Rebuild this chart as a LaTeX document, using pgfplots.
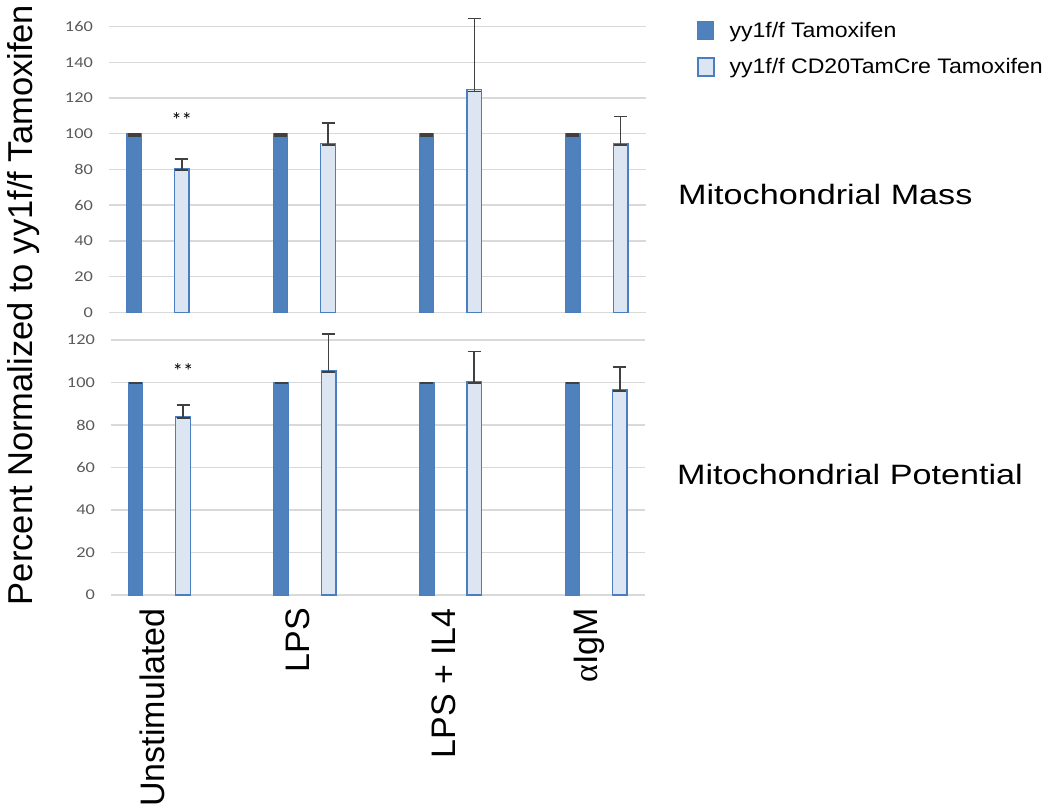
\documentclass[border=0pt]{standalone}
\usepackage{pgfplots}
\pgfplotsset{compat=1.18}
\usepackage{pgfplotstable}
\usepackage{graphicx}
\usepackage{fontspec}
\setmainfont{Liberation Sans}
\newfontfamily\calibri{Carlito}
\newfontfamily\serifgreek{Liberation Serif}
\definecolor{darkbar}{HTML}{4F81BD}
\definecolor{lightbar}{HTML}{DCE6F2}
\definecolor{barline}{HTML}{4A7EC0}
\definecolor{gridgray}{HTML}{D9D9D9}
\definecolor{ticktext}{HTML}{595959}
\definecolor{errgray}{HTML}{404040}

% Mitochondrial Mass
\pgfplotstableread{
x y ep em
-0.163 100 0 1.2
0.837 100 0 1.2
1.837 100 0 1.2
2.837 100 0 1.2
}\massA
\pgfplotstableread{
x y ep em
0.163 80.7 5.2 1.0
1.163 94.7 11.5 1.0
2.163 124.9 39.6 1.2
3.163 94.7 14.9 1.0
}\massB
% Mitochondrial Potential
\pgfplotstableread{
x y ep em
-0.163 100 0 0.3
0.837 100 0 0.3
1.837 100 0 0.3
2.837 100 0 0.3
}\potA
\pgfplotstableread{
x y ep em
0.163 83.8 5.5 0.6
1.163 105.6 17.1 0.6
2.163 100.2 14.3 0.3
3.163 96.5 10.9 0.6
}\potB

\pgfplotsset{
  panel/.style={
    scale only axis, ymin=0,
    axis line style={draw=none},
    ymajorgrids, grid style={gridgray, line width=1.4bp},
    major tick length=0pt, tick style={draw=none},
    yticklabel style={font=\calibri\fontsize{15bp}{18bp}\selectfont, color=ticktext, inner sep=0pt, xshift=-16bp},
    yticklabel={\scalebox{1.22}[1]{\pgfmathprintnumber{\tick}}},
    /pgf/number format/assume math mode=true,
    clip=false,
    ybar, bar width=14.5bp,
  },
  errs/.style={
    error bars/.cd, y dir=both, y explicit,
    error bar style={errgray, line width=1.6bp, solid},
    error mark options={errgray, line width=1.6bp, mark size=6.5bp, rotate=90, solid},
  },
  darkstyle/.style={fill=darkbar, draw=barline, line width=1bp, bar shift=0pt, errs},
  lightstyle/.style={fill=lightbar, draw=barline, line width=1.3bp, bar shift=0pt, errs},
}

\begin{document}
\begin{tikzpicture}
\useasboundingbox (0,0) rectangle (1050bp,811bp);

% top panel
\begin{axis}[panel,
  at={(109bp,498.7bp)}, anchor=south west,
  width=537bp, height=285.6bp,
  xmin=-0.334, xmax=3.336, xtick=\empty,
  ymax=160, ytick={0,20,...,160},
  legend style={at={(rel axis cs:1.095,1.024)}, anchor=north west, draw=none, fill=none,
    inner sep=0pt, row sep=16bp, font=\fontsize{21bp}{24bp}\selectfont,
    /tikz/every odd column/.append style={column sep=13bp}},
  legend cell align=left,
  legend image code/.code={\draw[#1] (0bp,-9bp) rectangle (16bp,9bp);},
]
\addplot[darkstyle] table[x=x, y=y, y error plus=ep, y error minus=em] {\massA};
\addlegendentry{\scalebox{1.1}[1]{yy1f/f Tamoxifen}}
\addplot[lightstyle] table[x=x, y=y, y error plus=ep, y error minus=em] {\massB};
\addlegendentry{\scalebox{1.1}[1]{yy1f/f CD20TamCre Tamoxifen}}
\node[font=\calibri\fontsize{21bp}{21bp}\selectfont] at (axis cs:0.163,107.5) {**};
\end{axis}

% bottom panel
\begin{axis}[panel,
  at={(111bp,216bp)}, anchor=south west,
  width=534bp, height=255bp,
  xmin=-0.332, xmax=3.336,
  xtick={0,1,2,3},
  xticklabels={Unstimulated, LPS, LPS + IL4, {{\serifgreek α}IgM}},
  xticklabel style={xshift=-7bp, rotate=90, anchor=east, inner sep=0pt, font=\fontsize{34bp}{40bp}\selectfont, color=black},
  xticklabel shift=13bp,
  ymax=120, ytick={0,20,...,120},
]
\addplot[darkstyle] table[x=x, y=y, y error plus=ep, y error minus=em] {\potA};
\addplot[lightstyle] table[x=x, y=y, y error plus=ep, y error minus=em] {\potB};
\node[font=\calibri\fontsize{21bp}{21bp}\selectfont] at (axis cs:0.163,105.5) {**};
\end{axis}

\node[rotate=90, anchor=base, font=\fontsize{34.5bp}{40bp}\selectfont] at (32bp,506bp) {Percent Normalized to yy1f/f Tamoxifen};
\node[anchor=base west, inner sep=0pt, font=\fontsize{28bp}{32bp}\selectfont] at (678bp,606bp) {\scalebox{1.22}[1]{Mitochondrial Mass}};
\node[anchor=base west, inner sep=0pt, font=\fontsize{28bp}{32bp}\selectfont] at (677bp,326bp) {\scalebox{1.22}[1]{Mitochondrial Potential}};
\end{tikzpicture}
\end{document}
